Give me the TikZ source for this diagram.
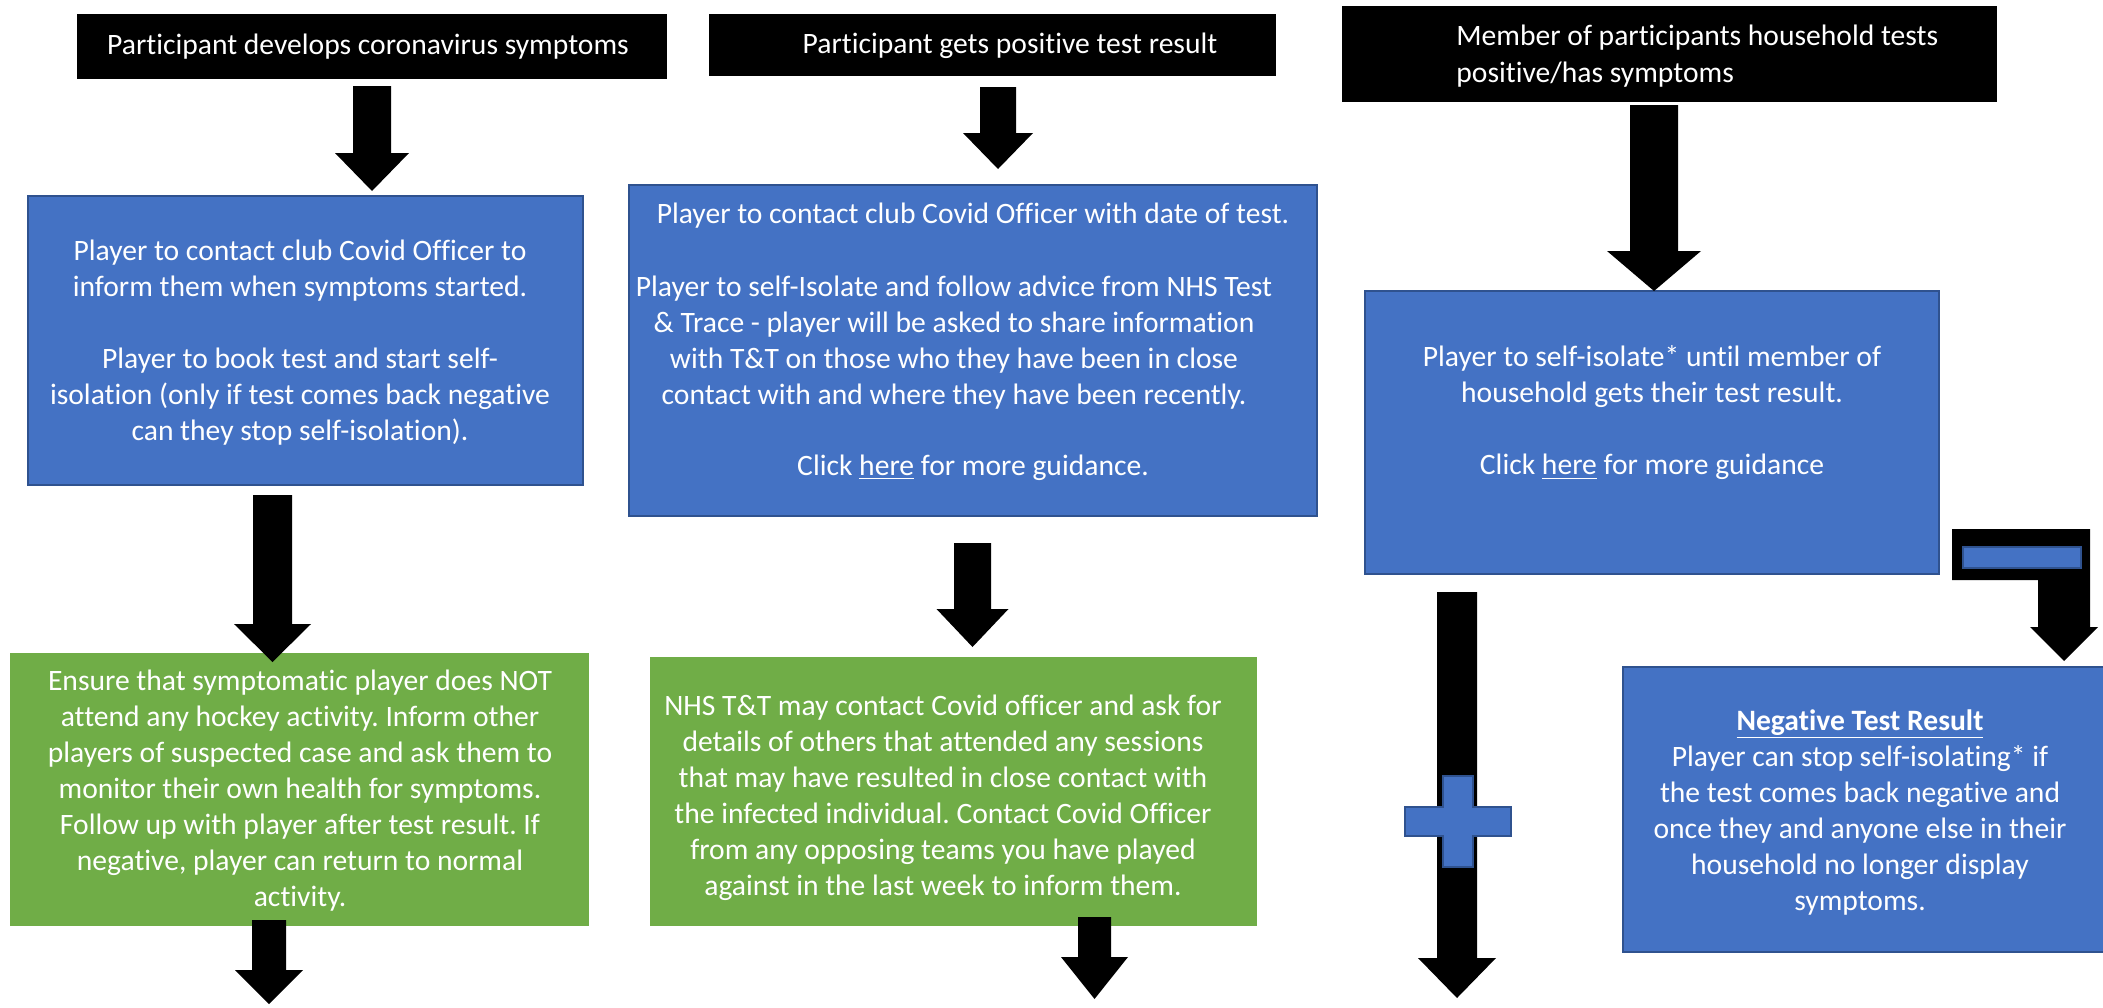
\documentclass[tikz,border=0pt]{standalone}
\usepackage{fontspec}
\setmainfont{Carlito}[Ligatures=NoCommon]
\usetikzlibrary{fit}
\definecolor{boxblue}{HTML}{4472C4}
\definecolor{boxedge}{HTML}{2F528F}
\definecolor{boxgreen}{HTML}{70AD47}
% block arrow: centre x, top y, head start y, tip y, half shaft width, half head width
\newcommand\blkarrow[6]{%
  \fill[black] ({#1-#5},#2) -- ({#1+#5},#2) -- ({#1+#5},#3) -- ({#1+#6},#3) -- (#1,#4)
    -- ({#1-#6},#3) -- ({#1-#5},#3) -- cycle;}
\begin{document}
\frenchspacing
\begin{tikzpicture}[x=0.5pt,y=-0.5pt,
  bluebox/.style={fill=boxblue,draw=boxedge,line width=1pt,inner sep=0pt},
  greenbox/.style={fill=boxgreen,inner sep=0pt},
  blackbox/.style={fill=black,inner sep=0pt},
  txt/.style={text=white,align=center,font=\fontsize{14.8}{18}\selectfont,inner sep=0pt},
  txtl/.style={text=white,align=left,font=\fontsize{14.8}{18.5}\selectfont,inner sep=0pt,anchor=west}]
\useasboundingbox (0,0) rectangle (2103,1007);

% header boxes
\node[blackbox,fit={(77,14) (667,79)}] (h1) {};
\node[txt] (h1t) at (368,47) {Participant develops coronavirus symptoms};
\node[blackbox,fit={(709,14) (1276,76)}] (h2) {};
\node[txt] (h2t) at (1010,46) {Participant gets positive test result};
\node[blackbox,fit={(1342,6) (1997,102)}] (h3) {};
\node[txtl] (h3t) at (1456,56) {Member of participants household tests\\positive/has symptoms};

% blue boxes
\node[bluebox,fit={(28,196) (583,485)}] (b1) {};
\node[txt] (b1t) at (300,343) {Player to contact club Covid Officer to\\inform them when symptoms started.\\[18pt]Player to book test and start self-\\isolation (only if test comes back negative\\can they stop self-isolation).};
\node[bluebox,fit={(629,185) (1317,516)}] (b2) {};
\node[txt] (b2a) at (973,216) {Player to contact club Covid Officer with date of test.};
\node[txt] (b2b) at (954,343) {Player to self-Isolate and follow advice from NHS Test\\\& Trace - player will be asked to share information\\with T\&T on those who they have been in close\\contact with and where they have been recently.};
\node[txt] (b2c) at (973,468) {Click \underline{here} for more guidance.};
\node[bluebox,fit={(1365,291) (1939,574)}] (b3) {};
\node[txt] (b3t) at (1652,413) {Player to self-isolate* until member of\\household gets their test result.\\[18pt]Click \underline{here} for more guidance};

% green boxes
\node[greenbox,fit={(10,653) (589,926)}] (g1) {};
\node[txt] (g1t) at (300,791) {Ensure that symptomatic player does NOT\\attend any hockey activity. Inform other\\players of suspected case and ask them to\\monitor their own health for symptoms.\\Follow up with player after test result. If\\negative, player can return to normal\\activity.};
\node[greenbox,fit={(650,657) (1257,926)}] (g2) {};
\node[txt] (g2t) at (943,798) {NHS T\&T may contact Covid officer and ask for\\details of others that attended any sessions\\that may have resulted in close contact with\\the infected individual. Contact Covid Officer\\from any opposing teams you have played\\against in the last week to inform them.};

% negative result box
\node[bluebox,fit={(1623,667) (2110,952)}] (neg) {};
\node[txt] (negt) at (1860,812) {\textbf{\underline{Negative Test Result}}\\Player can stop self-isolating* if\\the test comes back negative and\\once they and anyone else in their\\household no longer display\\symptoms.};

% block arrows
\blkarrow{372}{86}{153}{191}{19}{37}
\blkarrow{272.5}{495}{624}{662}{19.5}{38.5}
\blkarrow{269}{920}{970}{1004}{17}{34}
\blkarrow{998}{87}{133}{169}{18}{35}
\blkarrow{972.5}{543}{609}{647}{18.5}{36}
\blkarrow{1094.5}{917}{957}{999}{16.5}{33.5}
\blkarrow{1654}{105}{251}{291}{24}{47}
\blkarrow{1457}{592}{958}{998}{20}{39}

% bent arrow towards negative result
\fill[black] (1952,529) -- (2090,529) -- (2090,627) -- (2098,627) -- (2064,661)
  -- (2030,627) -- (2038,627) -- (2038,580) -- (1952,580) -- cycle;
\filldraw[fill=boxblue,draw=boxedge,line width=1pt] (1963,547) rectangle (2081,568);

% plus sign on the long arrow
\filldraw[fill=boxblue,draw=boxedge,line width=1pt]
  (1443,776) -- (1473,776) -- (1473,807) -- (1511,807) -- (1511,836) -- (1473,836)
  -- (1473,867) -- (1443,867) -- (1443,836) -- (1405,836) -- (1405,807) -- (1443,807) -- cycle;
\end{tikzpicture}
\end{document}
